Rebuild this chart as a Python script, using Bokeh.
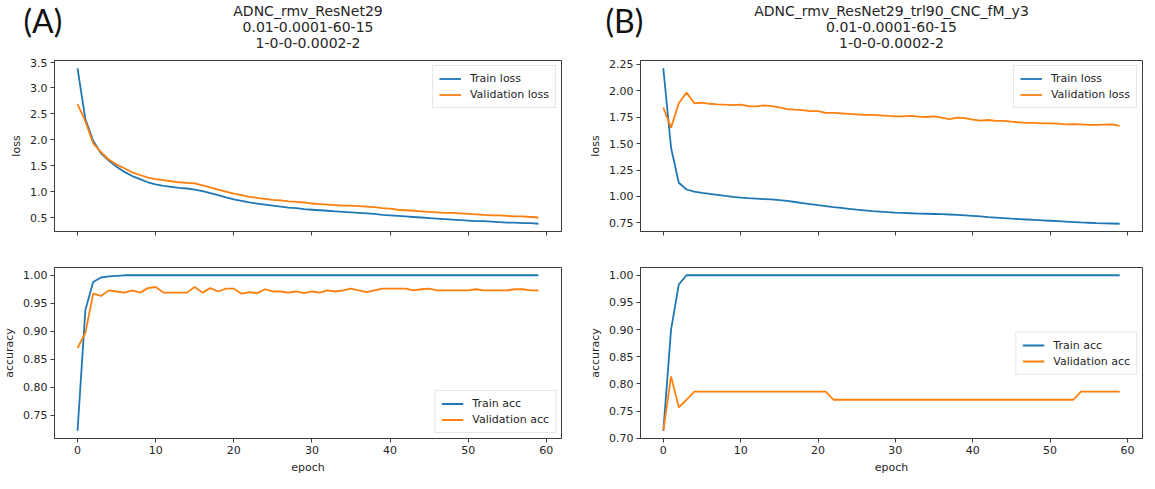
from bokeh.plotting import figure
from bokeh.models import (FixedTicker, Legend, LegendItem, Range1d,
                          PrintfTickFormatter, CustomJSTickFormatter)
from bokeh.layouts import row, column
from bokeh.core.properties import value
from bokeh.embed import file_html
from bokeh.resources import INLINE

# ---------------- data ----------------
epochs = list(range(60))
x_ticks = [0, 10, 20, 30, 40, 50, 60]

a_title = ["ADNC_rmv_ResNet29", "0.01-0.0001-60-15", "1-0-0-0.0002-2"]
b_title = ["ADNC_rmv_ResNet29_trl90_CNC_fM_y3", "0.01-0.0001-60-15", "1-0-0-0.0002-2"]

a_train_loss = [3.38, 2.40, 1.98, 1.74, 1.60, 1.48, 1.38, 1.30, 1.24, 1.18,
                1.14, 1.11, 1.09, 1.07, 1.06, 1.04, 1.01, 0.97, 0.93, 0.89,
                0.85, 0.82, 0.79, 0.77, 0.75, 0.73, 0.71, 0.69, 0.68, 0.66,
                0.65, 0.64, 0.63, 0.62, 0.61, 0.60, 0.59, 0.58, 0.57, 0.55,
                0.54, 0.53, 0.52, 0.51, 0.50, 0.49, 0.48, 0.47, 0.46, 0.45,
                0.44, 0.43, 0.43, 0.42, 0.41, 0.40, 0.40, 0.39, 0.39, 0.38]
a_val_loss = [2.69, 2.36, 1.93, 1.76, 1.62, 1.52, 1.45, 1.37, 1.32, 1.27,
              1.24, 1.22, 1.20, 1.18, 1.17, 1.16, 1.12, 1.08, 1.04, 1.00,
              0.96, 0.93, 0.90, 0.88, 0.86, 0.84, 0.83, 0.81, 0.80, 0.79,
              0.77, 0.76, 0.75, 0.74, 0.73, 0.73, 0.72, 0.71, 0.70, 0.68,
              0.67, 0.65, 0.64, 0.63, 0.62, 0.61, 0.60, 0.59, 0.59, 0.58,
              0.57, 0.56, 0.55, 0.54, 0.54, 0.53, 0.52, 0.52, 0.51, 0.50]
a_train_acc = [0.722, 0.938, 0.988, 0.996, 0.998, 0.999, 1.0, 1.0, 1.0, 1.0,
               1.0, 1.0, 1.0, 1.0, 1.0, 1.0, 1.0, 1.0, 1.0, 1.0,
               1.0, 1.0, 1.0, 1.0, 1.0, 1.0, 1.0, 1.0, 1.0, 1.0,
               1.0, 1.0, 1.0, 1.0, 1.0, 1.0, 1.0, 1.0, 1.0, 1.0,
               1.0, 1.0, 1.0, 1.0, 1.0, 1.0, 1.0, 1.0, 1.0, 1.0,
               1.0, 1.0, 1.0, 1.0, 1.0, 1.0, 1.0, 1.0, 1.0, 1.0]
a_val_acc = [0.870, 0.897, 0.967, 0.963, 0.973, 0.971, 0.969, 0.973, 0.969, 0.977,
             0.979, 0.969, 0.969, 0.969, 0.969, 0.979, 0.969, 0.977, 0.971, 0.976,
             0.976, 0.967, 0.970, 0.968, 0.975, 0.971, 0.971, 0.969, 0.971, 0.968,
             0.971, 0.969, 0.973, 0.971, 0.973, 0.976, 0.973, 0.970, 0.973, 0.976,
             0.976, 0.976, 0.976, 0.973, 0.975, 0.976, 0.973, 0.973, 0.973, 0.973,
             0.973, 0.975, 0.973, 0.973, 0.973, 0.973, 0.975, 0.975, 0.973, 0.973]

b_train_loss = [2.21, 1.46, 1.13, 1.066, 1.047, 1.034, 1.025, 1.016, 1.006, 0.997,
                0.990, 0.984, 0.980, 0.976, 0.972, 0.966, 0.958, 0.948, 0.938, 0.928,
                0.918, 0.909, 0.900, 0.892, 0.884, 0.876, 0.869, 0.862, 0.857, 0.852,
                0.848, 0.845, 0.842, 0.839, 0.837, 0.835, 0.833, 0.830, 0.826, 0.822,
                0.818, 0.812, 0.806, 0.801, 0.796, 0.791, 0.787, 0.783, 0.779, 0.775,
                0.771, 0.767, 0.763, 0.759, 0.755, 0.752, 0.749, 0.747, 0.745, 0.743]
b_val_loss = [1.84, 1.65, 1.88, 1.98, 1.88, 1.885, 1.875, 1.87, 1.866, 1.863,
              1.866, 1.853, 1.85, 1.86, 1.853, 1.84, 1.825, 1.82, 1.816, 1.806,
              1.806, 1.79, 1.79, 1.785, 1.78, 1.775, 1.77, 1.77, 1.765, 1.76,
              1.756, 1.756, 1.76, 1.754, 1.75, 1.756, 1.744, 1.73, 1.744, 1.74,
              1.725, 1.716, 1.722, 1.713, 1.713, 1.706, 1.70, 1.694, 1.694, 1.69,
              1.69, 1.688, 1.68, 1.682, 1.68, 1.675, 1.675, 1.678, 1.68, 1.666]
b_train_acc = [0.714, 0.900, 0.983, 1.0, 1.0, 1.0, 1.0, 1.0, 1.0, 1.0,
               1.0, 1.0, 1.0, 1.0, 1.0, 1.0, 1.0, 1.0, 1.0, 1.0,
               1.0, 1.0, 1.0, 1.0, 1.0, 1.0, 1.0, 1.0, 1.0, 1.0,
               1.0, 1.0, 1.0, 1.0, 1.0, 1.0, 1.0, 1.0, 1.0, 1.0,
               1.0, 1.0, 1.0, 1.0, 1.0, 1.0, 1.0, 1.0, 1.0, 1.0,
               1.0, 1.0, 1.0, 1.0, 1.0, 1.0, 1.0, 1.0, 1.0, 1.0]
b_val_acc = [0.714, 0.814, 0.757, 0.771, 0.786, 0.786, 0.786, 0.786, 0.786, 0.786,
             0.786, 0.786, 0.786, 0.786, 0.786, 0.786, 0.786, 0.786, 0.786, 0.786,
             0.786, 0.786, 0.771, 0.771, 0.771, 0.771, 0.771, 0.771, 0.771, 0.771,
             0.771, 0.771, 0.771, 0.771, 0.771, 0.771, 0.771, 0.771, 0.771, 0.771,
             0.771, 0.771, 0.771, 0.771, 0.771, 0.771, 0.771, 0.771, 0.771, 0.771,
             0.771, 0.771, 0.771, 0.771, 0.786, 0.786, 0.786, 0.786, 0.786, 0.786]

a_loss_ticks = [0.5, 1.0, 1.5, 2.0, 2.5, 3.0, 3.5]
a_acc_ticks = [0.75, 0.80, 0.85, 0.90, 0.95, 1.00]
b_loss_ticks = [0.75, 1.00, 1.25, 1.50, 1.75, 2.00, 2.25]
b_acc_ticks = [0.70, 0.75, 0.80, 0.85, 0.90, 0.95, 1.00]

# ---------------- style ----------------
FONT = "DejaVu Sans"
TXT = "#262626"
SPINE = "#3c3c3c"
BLUE = "#1f77b4"
ORANGE = "#ff7f0e"
FRAME_H = 171
HEAD_H = 58
GAP_B1 = 24


def margin_range(*series):
    lo = min(min(s) for s in series)
    hi = max(max(s) for s in series)
    pad = 0.05 * (hi - lo)
    return Range1d(lo - pad, hi + pad)


def x_range():
    pad = 0.05 * (epochs[-1] - epochs[0])
    return Range1d(epochs[0] - pad, epochs[-1] + pad)


def make_plot(frame_w, bl, br, bt, bb, series, names, yticks, yfmt, ylabel,
              bottom, legend_loc):
    p = figure(frame_width=frame_w, frame_height=FRAME_H,
               min_border_left=bl, min_border_right=br,
               min_border_top=bt, min_border_bottom=bb,
               x_range=x_range(), y_range=margin_range(*series),
               output_backend="svg", toolbar_location=None)
    p.title.visible = False
    p.xgrid.visible = False
    p.ygrid.visible = False
    p.outline_line_color = SPINE
    p.outline_line_width = 1
    p.background_fill_color = "white"
    p.border_fill_color = "white"
    for ax in (p.xaxis[0], p.yaxis[0]):
        ax.axis_line_color = SPINE
        ax.major_tick_line_color = SPINE
        ax.major_tick_out = 4
        ax.major_tick_in = 0
        ax.minor_tick_line_color = None
        ax.major_label_text_font = FONT
        ax.major_label_text_font_size = "11px"
        ax.major_label_text_color = TXT
        ax.major_label_standoff = 3
        ax.axis_label_text_font = FONT
        ax.axis_label_text_font_size = "11px"
        ax.axis_label_text_font_style = "normal"
        ax.axis_label_text_color = TXT
        ax.axis_label_standoff = 4
    p.xaxis.ticker = FixedTicker(ticks=x_ticks)
    p.yaxis.ticker = FixedTicker(ticks=yticks)
    p.yaxis.formatter = PrintfTickFormatter(format=yfmt)
    p.yaxis.axis_label = ylabel
    if bottom:
        p.xaxis.axis_label = "epoch"
    else:
        p.xaxis.formatter = CustomJSTickFormatter(code="return ''")

    items = []
    for s, name, col in zip(series, names, (BLUE, ORANGE)):
        r = p.line(epochs, s, line_color=col, line_width=1.8)
        items.append(LegendItem(label=name, renderers=[r]))
    leg = Legend(items=items, location=legend_loc, margin=5, padding=6,
                 spacing=3, glyph_width=22, glyph_height=13, label_height=13,
                 label_standoff=9, label_text_font=FONT,
                 label_text_font_size="11px", label_text_color=TXT,
                 border_line_color="#cccccc", border_line_width=1,
                 background_fill_color="white", background_fill_alpha=0.85)
    p.add_layout(leg)
    return p


def make_header(frame_w, bl, br, lines, tag, tag_dx):
    # header frame is aligned with the plot frames below it (same borders)
    h = figure(frame_width=frame_w, frame_height=HEAD_H,
               min_border_left=bl, min_border_right=br,
               min_border_top=0, min_border_bottom=0,
               x_range=Range1d(0, frame_w), y_range=Range1d(0, HEAD_H),
               x_axis_location=None, y_axis_location=None,
               output_backend="svg", toolbar_location=None)
    h.title.visible = False
    h.grid.visible = False
    h.outline_line_color = None
    h.background_fill_color = "white"
    h.border_fill_color = "white"
    cx = frame_w / 2
    line_y = [HEAD_H - 10, HEAD_H - 26, HEAD_H - 42]
    h.text(x=[cx, cx, cx], y=line_y, text=lines,
           text_font=value(FONT), text_font_size=value("14px"),
           text_color=TXT, text_align="center", text_baseline="middle")
    h.text(x=[tag_dx], y=[HEAD_H - 20], text=[tag],
           text_font=value("Lato"), text_font_size=value("32px"),
           text_color="#111111", text_align="left", text_baseline="middle",
           level="annotation")
    return h


A_W, B_W = 507, 502
A_L, B_L = 50, 59

ha = make_header(A_W, A_L, 20, a_title, "(A)", -31)
hb = make_header(B_W, B_L, 1, b_title, "(B)", -35)
a1 = make_plot(A_W, A_L, 20, 2, GAP_B1, [a_train_loss, a_val_loss],
               ["Train loss", "Validation loss"], a_loss_ticks, "%.1f", "loss",
               False, "top_right")
a2 = make_plot(A_W, A_L, 20, 36 - GAP_B1, 35, [a_train_acc, a_val_acc],
               ["Train acc", "Validation acc"], a_acc_ticks, "%.2f", "accuracy",
               True, "bottom_right")
b1 = make_plot(B_W, B_L, 1, 2, GAP_B1, [b_train_loss, b_val_loss],
               ["Train loss", "Validation loss"], b_loss_ticks, "%.2f", "loss",
               False, "top_right")
b2 = make_plot(B_W, B_L, 1, 36 - GAP_B1, 35, [b_train_acc, b_val_acc],
               ["Train acc", "Validation acc"], b_acc_ticks, "%.2f", "accuracy",
               True, "right")

layout = row(column(ha, a1, a2), column(hb, b1, b2))
open("out.html", "w").write(file_html(layout, INLINE))
